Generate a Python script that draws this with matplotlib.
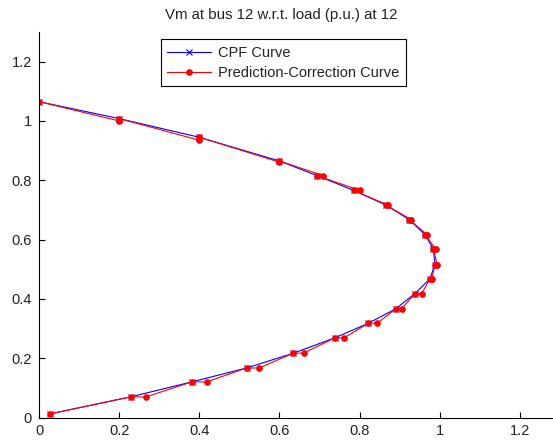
import matplotlib
matplotlib.use("Agg")
import matplotlib.pyplot as plt

plt.rcParams['font.family'] = ['Liberation Sans', 'DejaVu Sans']

# CPF curve (corrected points)
cpf_x = [0, 0.2, 0.4, 0.6, 0.693, 0.785, 0.866, 0.924, 0.963, 0.984, 0.988,
         0.975, 0.938, 0.891, 0.822, 0.739, 0.635, 0.518, 0.381, 0.23, 0.027]
cpf_y = [1.065, 1.008, 0.945, 0.865, 0.816, 0.766, 0.716, 0.667, 0.617, 0.568, 0.515,
         0.467, 0.418, 0.367, 0.318, 0.269, 0.217, 0.167, 0.12, 0.07, 0.012]

# prediction-correction path (predictor then corrector)
pc_x = [0, 0.2, 0.2, 0.4, 0.4, 0.6, 0.6, 0.709, 0.693, 0.80, 0.785, 0.871, 0.866,
        0.929, 0.924, 0.968, 0.963, 0.990, 0.984, 0.994, 0.988, 0.980, 0.975,
        0.955, 0.938, 0.905, 0.891, 0.844, 0.822, 0.762, 0.739, 0.66, 0.635,
        0.549, 0.518, 0.418, 0.381, 0.266, 0.23, 0.027]
pc_y = [1.065, 1.0, 1.008, 0.935, 0.945, 0.861, 0.865, 0.816, 0.816, 0.766, 0.766, 0.716, 0.716,
        0.667, 0.667, 0.617, 0.617, 0.568, 0.568, 0.515, 0.515, 0.467, 0.467,
        0.418, 0.418, 0.367, 0.367, 0.318, 0.318, 0.269, 0.269, 0.217, 0.217,
        0.167, 0.167, 0.12, 0.12, 0.069, 0.07, 0.012]

ticks = [0, 0.2, 0.4, 0.6, 0.8, 1, 1.2]
tick_labels = ['0', '0.2', '0.4', '0.6', '0.8', '1', '1.2']

fig = plt.figure(figsize=(5.53, 4.41), dpi=100)
ax = fig.add_axes([39 / 553, 23.5 / 441, 521 / 553, 385.5 / 441])

ax.plot(cpf_x, cpf_y, '-x', color='b', lw=0.8, ms=4, mew=0.8, label='CPF Curve')
ax.plot(pc_x, pc_y, '-o', color='r', lw=0.8, ms=3.8, mec='r', mfc='r',
        label='Prediction-Correction Curve')

ax.set_xlim(0, 1.3)
ax.set_ylim(0, 1.3)
ax.set_xticks(ticks)
ax.set_xticklabels(tick_labels)
ax.set_yticks(ticks)
ax.set_yticklabels(tick_labels)
ax.tick_params(direction='in', length=4, width=0.8, labelsize=10.5, pad=5,
               labelcolor='#222222')
ax.spines['top'].set_visible(False)
ax.spines['right'].set_visible(False)
for s in ['left', 'bottom']:
    ax.spines[s].set_linewidth(0.8)

fig.text(281.7 / 553, 1 - 14.5 / 441, 'Vm at bus 12 w.r.t. load (p.u.) at 12',
         ha='center', va='center', fontsize=10.8, color='#222222')

leg = ax.legend(loc='upper left', bbox_to_anchor=(160.7 / 553, 1 - 39.3 / 441),
                bbox_transform=fig.transFigure, borderaxespad=0, fancybox=False,
                framealpha=1, edgecolor='k', fontsize=10.5, handlelength=3.0,
                borderpad=0.45, labelspacing=0.4, handletextpad=0.5)
leg.get_frame().set_linewidth(0.8)
for t in leg.get_texts():
    t.set_color('#222222')

fig.savefig('out.png', dpi=100)
